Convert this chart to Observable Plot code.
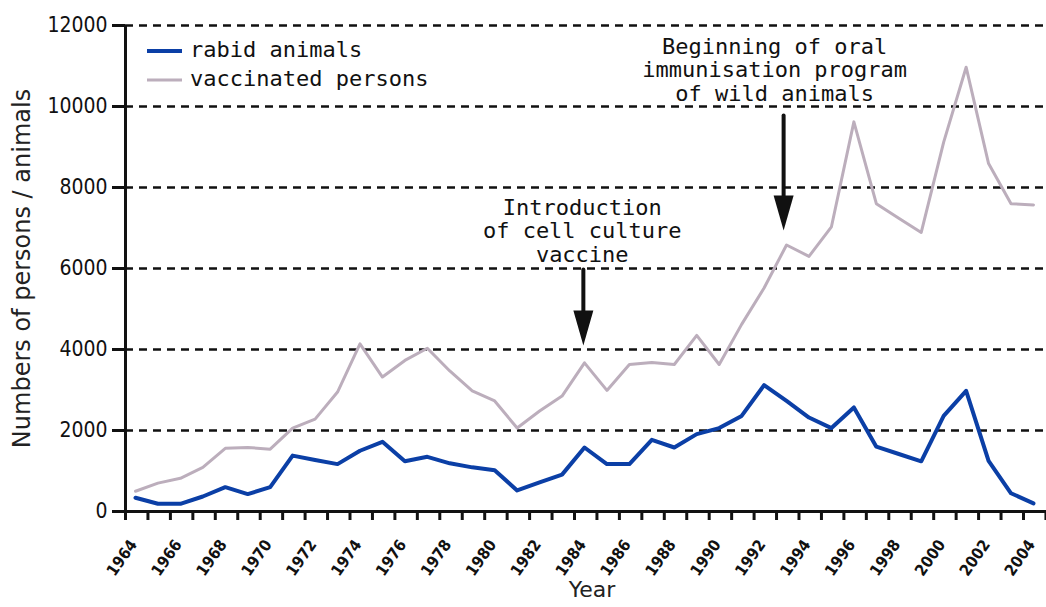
<!DOCTYPE html>
<html><head><meta charset="utf-8">
<script src="https://cdn.jsdelivr.net/npm/d3@7"></script>
<script src="https://cdn.jsdelivr.net/npm/@observablehq/plot@0.6"></script>
<style>
body{margin:0;background:#fff;}
#chart{width:1046px;height:607px;}
</style></head>
<body><div id="chart"></div>
<script>
// ---- data ----
const years = [1964,1965,1966,1967,1968,1969,1970,1971,1972,1973,1974,1975,1976,1977,1978,1979,1980,1981,1982,1983,1984,1985,1986,1987,1988,1989,1990,1991,1992,1993,1994,1995,1996,1997,1998,1999,2000,2001,2002,2003,2004];
const rabidAnimals = [340,190,190,370,600,430,600,1380,1270,1170,1500,1720,1240,1350,1190,1090,1020,520,720,910,1580,1170,1170,1770,1580,1910,2060,2360,3120,2730,2320,2060,2570,1600,1420,1240,2360,2980,1250,450,200];
const vaccinatedPersons = [500,700,820,1090,1560,1580,1540,2060,2280,2950,4140,3320,3730,4030,3470,2980,2730,2060,2480,2850,3670,2990,3630,3680,3630,4350,3630,4620,5520,6580,6300,7030,9620,7600,7240,6890,9120,10970,8590,7600,7570];
const yTicks = [0,2000,4000,6000,8000,10000,12000];
const xLabelYears = [1964,1966,1968,1970,1972,1974,1976,1978,1980,1982,1984,1986,1988,1990,1992,1994,1996,1998,2000,2002,2004];
const seriesNames = ["rabid animals","vaccinated persons"];
const seriesColors = ["#0b3fa6","#bcaebc"];
const yLabel = "Numbers of persons / animals";
const xLabel = "Year";
// annotations
const annTexts = ["Introduction\nof cell culture\nvaccine","Beginning of oral\nimmunisation program\nof wild animals"];
const annTextX = [1983.9, 1992.47];
const annTextY = [7743, 11719];
const arrowX = [1983.95, 1992.87];
const arrowFrom = [5975, 9780];
const arrowTo = [4100, 6940];

// ---- build ----
const xDomain = [1963.555, 2004.58];
const tickPositions = d3.range(1964, 2006).map(d => d - 0.445);
const data = years.map((y,i) => ({year:y, rabid:rabidAnimals[i], vacc:vaccinatedPersons[i]}));
const ann = annTexts.map((t,i) => ({text:t, tx:annTextX[i], ty:annTextY[i], ax:arrowX[i], a1:arrowFrom[i], a2:arrowTo[i]}));

const headSymbol = {
  draw(context) {
    context.moveTo(-10,-35);
    context.lineTo(10,-35);
    context.lineTo(0,0);
    context.closePath();
  }
};

const mono = "'DejaVu Sans Mono', monospace";
const cond = "'DejaVu Sans Condensed', 'DejaVu Sans', sans-serif";
const plot = Plot.plot({
  width:1046, height:607,
  marginLeft:125, marginRight:0, marginTop:25, marginBottom:96,
  x:{domain:xDomain},
  y:{domain:[0,12000]},
  style:{fontFamily:"'DejaVu Sans', sans-serif", background:"#fff", color:"#111"},
  marks:[
    Plot.ruleY(yTicks.filter(d => d > 0), {stroke:"#111", strokeWidth:2.6, strokeDasharray:"8,6"}),
    Plot.axisY({ticks:yTicks, tickSize:13, tickPadding:5, fontSize:21, fontFamily:cond, strokeWidth:3, label:null, tickFormat:d => String(d)}),
    Plot.axisX({ticks:tickPositions, tickSize:9, tickFormat:() => "", strokeWidth:3, label:null}),
    Plot.text(xLabelYears, {x:d => d, text:d => String(d), frameAnchor:"bottom", dx:-2, dy:30, rotate:-55, textAnchor:"end", lineAnchor:"middle", fontSize:16, fontWeight:"bold", fontFamily:cond, fill:"#111"}),
    Plot.ruleY([0], {stroke:"#111", strokeWidth:3}),
    Plot.ruleX([xDomain[0]], {stroke:"#111", strokeWidth:3}),
    Plot.line(data, {x:"year", y:"vacc", stroke:seriesColors[1], strokeWidth:3}),
    Plot.line(data, {x:"year", y:"rabid", stroke:seriesColors[0], strokeWidth:4}),
    Plot.arrow(ann, {x:"ax", y1:"a1", y2:"a2", stroke:"#111", strokeWidth:4, headLength:0, insetEnd:20}),
    Plot.dot(ann, {x:"ax", y:"a2", symbol:headSymbol, fill:"#111", stroke:"none", r:10}),
    Plot.text(ann, {x:"tx", y:"ty", text:"text", lineAnchor:"top", textAnchor:"middle", fontFamily:mono, fontSize:22, lineHeight:1.07, fill:"#111"}),
    Plot.text([yLabel], {frameAnchor:"left", rotate:-90, dx:-103, fontSize:24, textAnchor:"middle", lineAnchor:"middle", fill:"#222"}),
    Plot.text([xLabel], {frameAnchor:"bottom", dx:6, dy:78, fontSize:22, textAnchor:"middle", lineAnchor:"middle", fill:"#222"})
  ]
});
document.getElementById("chart").appendChild(plot);

// legend inside the plot area
const svg = d3.select(plot);
const leg = svg.append("g").attr("font-family", mono).attr("font-size", 22).attr("fill", "#111").attr("text-anchor", "start");
const legY = [51, 80];
seriesNames.forEach((name, i) => {
  leg.append("line").attr("x1", 147).attr("x2", 182).attr("y1", legY[i]).attr("y2", legY[i])
    .attr("stroke", seriesColors[i]).attr("stroke-width", i === 0 ? 4 : 3);
  leg.append("text").attr("x", 190).attr("y", legY[i] + 6).attr("text-anchor", "start").text(name);
});
</script>
</body></html>
